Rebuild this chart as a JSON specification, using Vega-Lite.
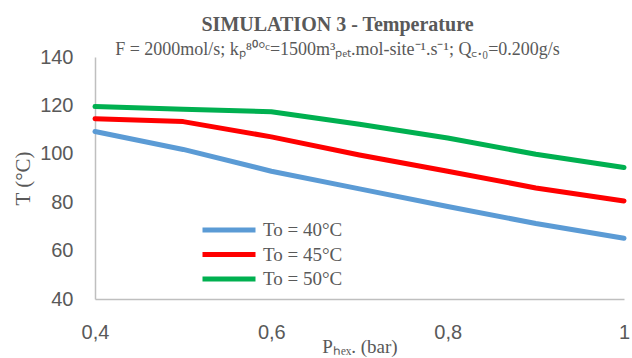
{
  "$schema": "https://vega.github.io/schema/vega-lite/v6.json",
  "width": 529,
  "height": 242,
  "autosize": {"type": "none"},
  "padding": {"left": 95, "top": 57, "right": 8, "bottom": 59},
  "background": "white",
  "title": {
    "text": "SIMULATION 3 - Temperature",
    "subtitle": "F = 2000mol/s; kₚ⁸⁰°ᶜ=1500m³ₚₑₜ.mol-site⁻¹.s⁻¹; Q꜀.₀=0.200g/s",
    "font": "Liberation Serif",
    "fontSize": 20,
    "fontWeight": "bold",
    "color": "#595959",
    "subtitleFont": "Liberation Serif",
    "subtitleFontSize": 18,
    "subtitleColor": "#595959",
    "subtitlePadding": 6,
    "anchor": "middle",
    "frame": "group",
    "dx": -22,
    "offset": -12
  },
  "config": {
    "view": {"stroke": null},
    "axis": {"grid": false, "ticks": false, "domainColor": "#BFBFBF", "domainWidth": 1.5}
  },
  "data": {
    "values": [
      {"p": 0.4, "T": 109.2, "s": "To = 40°C"},
      {"p": 0.5, "T": 101.8, "s": "To = 40°C"},
      {"p": 0.6, "T": 92.8, "s": "To = 40°C"},
      {"p": 0.7, "T": 85.5, "s": "To = 40°C"},
      {"p": 0.8, "T": 78.2, "s": "To = 40°C"},
      {"p": 0.9, "T": 71.2, "s": "To = 40°C"},
      {"p": 1.0, "T": 65.1, "s": "To = 40°C"},
      {"p": 0.4, "T": 114.5, "s": "To = 45°C"},
      {"p": 0.5, "T": 113.3, "s": "To = 45°C"},
      {"p": 0.6, "T": 107.0, "s": "To = 45°C"},
      {"p": 0.7, "T": 99.5, "s": "To = 45°C"},
      {"p": 0.8, "T": 92.8, "s": "To = 45°C"},
      {"p": 0.9, "T": 85.9, "s": "To = 45°C"},
      {"p": 1.0, "T": 80.5, "s": "To = 45°C"},
      {"p": 0.4, "T": 119.5, "s": "To = 50°C"},
      {"p": 0.5, "T": 118.4, "s": "To = 50°C"},
      {"p": 0.6, "T": 117.4, "s": "To = 50°C"},
      {"p": 0.7, "T": 112.2, "s": "To = 50°C"},
      {"p": 0.8, "T": 106.5, "s": "To = 50°C"},
      {"p": 0.9, "T": 99.8, "s": "To = 50°C"},
      {"p": 1.0, "T": 94.3, "s": "To = 50°C"}
    ]
  },
  "mark": {"type": "line", "strokeWidth": 5, "strokeCap": "round", "strokeJoin": "round"},
  "encoding": {
    "x": {
      "field": "p",
      "type": "quantitative",
      "scale": {"domain": [0.4, 1.0], "nice": false, "zero": false},
      "axis": {
        "values": [0.4, 0.6, 0.8, 1.0],
        "labelExpr": "replace(format(datum.value, '.1~f'), '.', ',')",
        "labelFont": "Liberation Sans",
        "labelFontSize": 20,
        "labelColor": "#595959",
        "labelPadding": 23,
        "labelFlush": false,
        "title": "Pₕₑₓ. (bar)",
        "titleFont": "Liberation Serif",
        "titleFontSize": 19,
        "titleFontWeight": "normal",
        "titleColor": "#595959",
        "titlePadding": -5
      }
    },
    "y": {
      "field": "T",
      "type": "quantitative",
      "scale": {"domain": [40, 140], "nice": false, "zero": false},
      "axis": {
        "values": [40, 60, 80, 100, 120, 140],
        "labelFont": "Liberation Sans",
        "labelFontSize": 20,
        "labelColor": "#595959",
        "labelPadding": 22,
        "title": "T (°C)",
        "titleFont": "Liberation Serif",
        "titleFontSize": 21,
        "titleFontWeight": "normal",
        "titleColor": "#595959",
        "titlePadding": 6
      }
    },
    "color": {
      "field": "s",
      "type": "nominal",
      "scale": {"domain": ["To = 40°C", "To = 45°C", "To = 50°C"], "range": ["#5B9BD5", "#FF0000", "#00B050"]},
      "legend": {
        "title": null,
        "orient": "none",
        "legendX": 105,
        "legendY": 161,
        "symbolType": "stroke",
        "symbolSize": 2809,
        "symbolStrokeWidth": 5,
        "clipHeight": 24,
        "rowPadding": 0.5,
        "padding": 0,
        "labelFont": "Liberation Serif",
        "labelFontSize": 19,
        "labelColor": "#595959",
        "labelOffset": 5
      }
    }
  }
}
